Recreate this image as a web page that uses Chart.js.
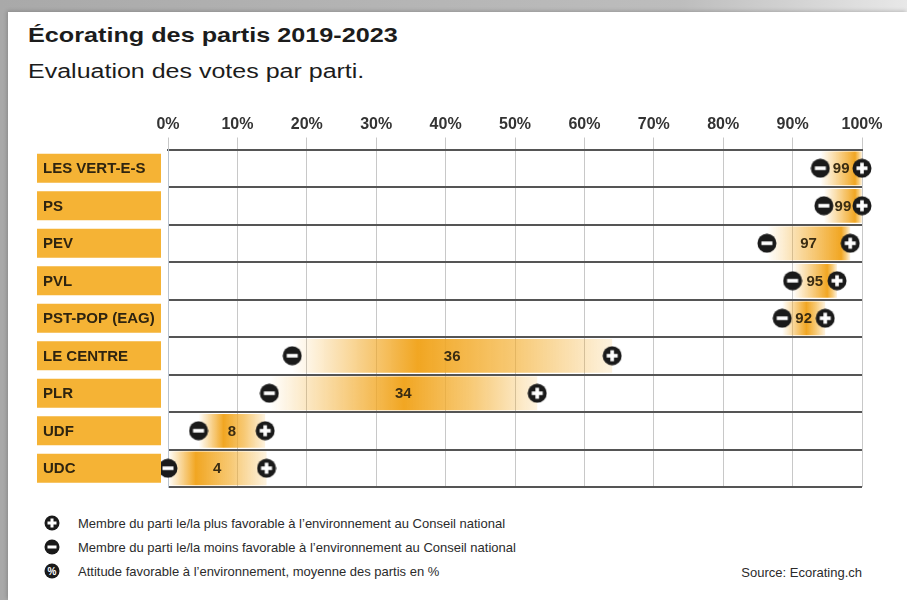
<!DOCTYPE html>
<html>
<head>
<meta charset="utf-8">
<script src="https://cdn.jsdelivr.net/npm/chart.js@4"></script>
<style>
  body { margin: 0; width: 907px; height: 600px; overflow: hidden; background: linear-gradient(to right, #a9a9a9, #bdbdbd 75%, #e8e8e8); font-family: "Liberation Sans", Arial, sans-serif; }
  #card { position: absolute; left: 8px; top: 12px; width: 899px; height: 588px; background: #fff; box-shadow: -1px -1px 4px rgba(0,0,0,0.2); }
  .txt { position: absolute; white-space: nowrap; color: #1c1c1c; transform-origin: left center; }
  #title { left: 28px; top: 24px; font-size: 21px; line-height: 21px; font-weight: bold; transform: scaleX(1.2); }
  #subtitle { left: 28px; top: 61px; font-size: 20px; line-height: 20px; transform: scaleX(1.25); }
  .leg { position: absolute; left: 44px; height: 16px; display: flex; align-items: center; font-size: 13px; color: #2b2b2b; }
  .leg svg { margin-right: 18px; }
  #source { position: absolute; right: 45px; top: 565px; font-size: 13px; color: #2b2b2b; line-height: 16px; }
  #wrap { position: absolute; left: 0; top: 0; width: 907px; height: 600px; }
</style>
</head>
<body>
<div id="card"></div>
<div class="txt" id="title">Écorating des partis 2019-2023</div>
<div class="txt" id="subtitle">Evaluation des votes par parti.</div>

<div class="leg" style="top:515px">
  <svg width="16" height="16" viewBox="0 0 16 16"><circle cx="8" cy="8" r="7.5" fill="#1a1a1a"/><rect x="3.5" y="6.5" width="9" height="3" fill="#fff"/><rect x="6.5" y="3.5" width="3" height="9" fill="#fff"/></svg>
  <span>Membre du parti le/la plus favorable à l’environnement au Conseil national</span>
</div>
<div class="leg" style="top:539px">
  <svg width="16" height="16" viewBox="0 0 16 16"><circle cx="8" cy="8" r="7.5" fill="#1a1a1a"/><rect x="3.5" y="6.5" width="9" height="3" fill="#fff"/></svg>
  <span>Membre du parti le/la moins favorable à l’environnement au Conseil national</span>
</div>
<div class="leg" style="top:563px">
  <svg width="16" height="16" viewBox="0 0 16 16"><circle cx="8" cy="8" r="7.5" fill="#1a1a1a"/><text x="8" y="11.5" text-anchor="middle" font-size="10" font-weight="bold" fill="#fff" font-family="Liberation Sans">%</text></svg>
  <span>Attitude favorable à l’environnement, moyenne des partis en %</span>
</div>
<div id="source">Source: Ecorating.ch</div>

<div id="wrap"><canvas id="myChart"></canvas></div>

<script>
const parties = ['LES VERT-E-S', 'PS', 'PEV', 'PVL', 'PST-POP (EAG)', 'LE CENTRE', 'PLR', 'UDF', 'UDC'];
const avgVals = [99, 99, 97, 95, 92, 36, 34, 8, 4];
const minVals = [94, 94.5, 86.3, 90, 88.5, 17.9, 14.6, 4.4, 0];
const maxVals = [100, 100, 98.3, 96.4, 94.7, 64, 53.2, 14, 14.2];
const tickVals = [0, 10, 20, 30, 40, 50, 60, 70, 80, 90, 100];

document.addEventListener('DOMContentLoaded', function() {
    const ctx = document.getElementById('myChart').getContext('2d');

    // little round icons used as point styles
    function makeIcon(plus) {
        const c = document.createElement('canvas');
        c.width = 20; c.height = 20;
        const g = c.getContext('2d');
        g.fillStyle = '#1a1a1a';
        g.beginPath(); g.arc(10, 10, 9.5, 0, Math.PI * 2); g.fill();
        g.fillStyle = '#fff';
        g.fillRect(4.5, 8.2, 11, 3.6);
        if (plus) g.fillRect(8.2, 4.5, 3.6, 11);
        return c;
    }
    const minusIcon = makeIcon(false);
    const plusIcon = makeIcon(true);

    function bandColor(c) {
        const chart = c.chart;
        if (!chart.chartArea) return 'rgba(242,170,40,0.6)';
        const i = c.dataIndex;
        const x = chart.scales.x;
        const x0 = x.getPixelForValue(minVals[i]);
        const x1 = x.getPixelForValue(maxVals[i]);
        const xa = x.getPixelForValue(avgVals[i]);
        const t = Math.min(Math.max((xa - x0) / (x1 - x0), 0.01), 0.99);
        const g = chart.ctx.createLinearGradient(x0, 0, x1, 0);
        g.addColorStop(0, 'rgba(243,172,42,0)');
        g.addColorStop(t, 'rgba(241,166,34,1)');
        g.addColorStop(t + (1 - t) * 0.5, 'rgba(243,172,42,0.65)');
        g.addColorStop(1, 'rgba(243,172,42,0.15)');
        return g;
    }

    // orange boxes with the party names, left of the plot
    const rowLabels = {
        id: 'rowLabels',
        afterDraw(chart) {
            const c = chart.ctx;
            const y = chart.scales.y;
            c.save();
            parties.forEach(function(p, i) {
                const yc = y.getPixelForValue(i);
                c.fillStyle = '#f5b335';
                c.fillRect(37, yc - 14.5, 124, 29);
                c.fillStyle = '#2e2410';
                c.font = 'bold 15px "Liberation Sans", Arial, sans-serif';
                c.textBaseline = 'middle';
                c.textAlign = 'left';
                c.fillText(p, 43, yc + 1);
            });
            c.restore();
        }
    };

    // average value written inside the band
    const avgText = {
        id: 'avgText',
        afterDatasetsDraw(chart) {
            const c = chart.ctx;
            const x = chart.scales.x, y = chart.scales.y;
            c.save();
            c.font = 'bold 15px "Liberation Sans", Arial, sans-serif';
            c.fillStyle = '#3a2c12';
            c.textAlign = 'center';
            c.textBaseline = 'middle';
            avgVals.forEach(function(v, i) {
                const px = x.getPixelForValue((minVals[i] + maxVals[i]) / 2);
                c.fillText(String(v), px, y.getPixelForValue(i) + 1);
            });
            c.restore();
        }
    };

    new Chart(ctx, {
        type: 'bar',
        data: {
            labels: parties,
            datasets: [{
                type: 'line',
                label: 'moins',
                data: parties.map((p, i) => ({ x: minVals[i], y: p })),
                showLine: false,
                pointStyle: minusIcon,
                clip: false,
                order: 0
            }, {
                type: 'line',
                label: 'plus',
                data: parties.map((p, i) => ({ x: maxVals[i], y: p })),
                showLine: false,
                pointStyle: plusIcon,
                clip: false,
                order: 0
            }, {
                label: 'band',
                data: parties.map((p, i) => [minVals[i], maxVals[i]]),
                backgroundColor: bandColor,
                borderWidth: 0,
                categoryPercentage: 1,
                barPercentage: 0.9,
                order: 1
            }]
        },
        options: {
            indexAxis: 'y',
            responsive: true,
            maintainAspectRatio: false,
            animation: false,
            events: [],
            layout: { padding: { left: 168, right: 45, top: 109.5, bottom: 113 } },
            plugins: { legend: { display: false }, tooltip: { enabled: false } },
            scales: {
                x: {
                    position: 'top',
                    min: 0,
                    max: 100,
                    afterFit: s => { s.height = 40; },
                    afterBuildTicks: s => { s.ticks = tickVals.map(v => ({ value: v })); },
                    ticks: {
                        callback: v => v + '%',
                        color: '#333',
                        padding: 3,
                        font: { family: '"Liberation Sans", Arial, sans-serif', size: 16, weight: 'bold' }
                    },
                    grid: { color: '#c8c8c8', lineWidth: 1, tickLength: 12 },
                    border: { color: '#555', width: 2 }
                },
                y: {
                    afterFit: s => { s.width = 0; },
                    ticks: { display: false },
                    grid: { offset: true, color: '#555', lineWidth: 2, drawTicks: false },
                    border: { color: '#b9c3cf', width: 1 }
                }
            }
        },
        plugins: [rowLabels, avgText]
    });
});
</script>
</body>
</html>
